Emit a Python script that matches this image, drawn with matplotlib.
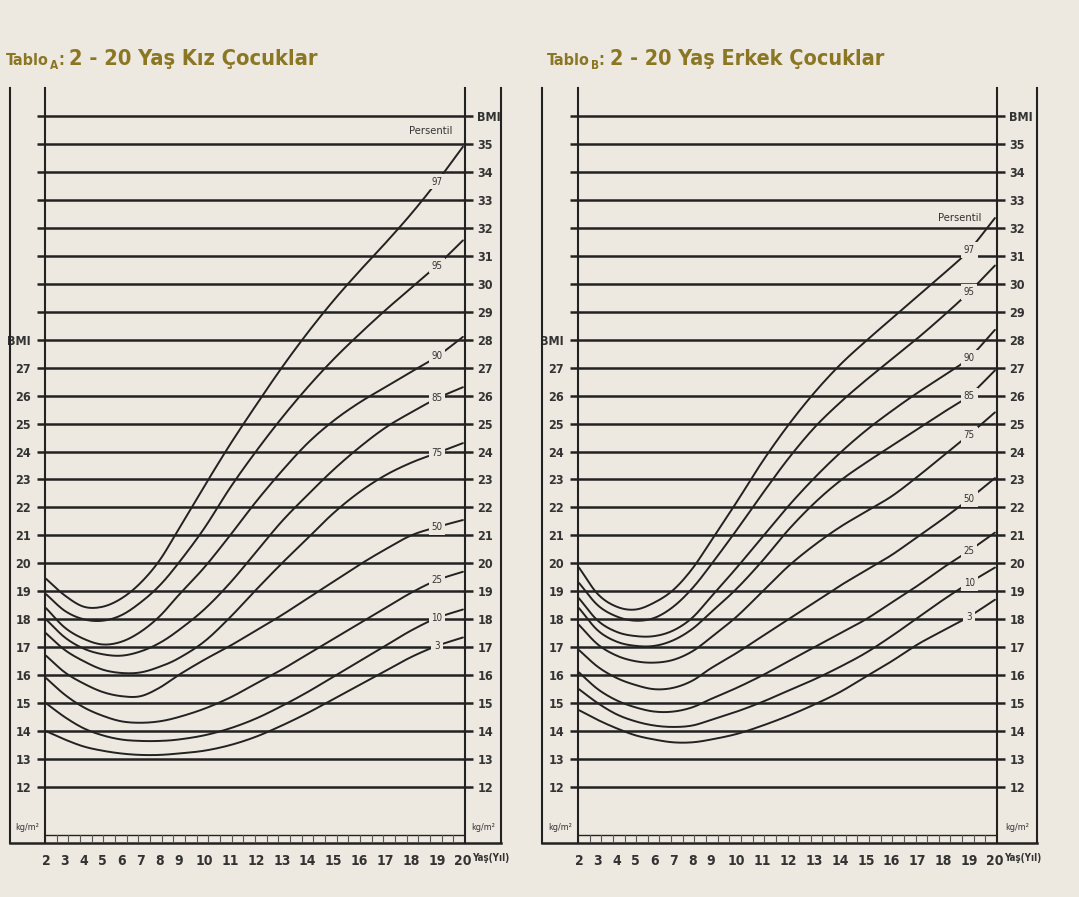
import numpy as np
import matplotlib.pyplot as plt
from matplotlib import font_manager
from matplotlib.font_manager import FontProperties

# ---- data (BMI, kg/m2) ----
ages = list(range(2, 21))
percentiles = ["3", "10", "25", "50", "75", "85", "90", "95", "97"]

girls_p3 = [14.0, 13.7, 13.45, 13.3, 13.2, 13.15, 13.15, 13.2, 13.3, 13.5, 13.8, 14.2, 14.65, 15.15, 15.65, 16.15, 16.65, 17.05, 17.35]
girls_p10 = [15.0, 14.5, 14.1, 13.85, 13.7, 13.65, 13.65, 13.7, 13.85, 14.1, 14.45, 14.9, 15.4, 15.95, 16.5, 17.05, 17.6, 18.05, 18.35]
girls_p25 = [15.9, 15.3, 14.85, 14.55, 14.35, 14.3, 14.35, 14.5, 14.8, 15.2, 15.7, 16.2, 16.75, 17.3, 17.85, 18.4, 18.95, 19.4, 19.7]
girls_p50 = [16.7, 16.1, 15.7, 15.4, 15.25, 15.25, 15.55, 16.0, 16.55, 17.05, 17.6, 18.15, 18.75, 19.35, 19.95, 20.5, 21.0, 21.3, 21.55]
girls_p75 = [17.5, 16.9, 16.5, 16.2, 16.08, 16.1, 16.3, 16.6, 17.2, 18.07, 19.05, 20.0, 20.9, 21.8, 22.55, 23.15, 23.6, 23.95, 24.3]
girls_p85 = [18.0, 17.35, 16.95, 16.75, 16.7, 16.85, 17.15, 17.6, 18.35, 19.3, 20.4, 21.5, 22.45, 23.35, 24.15, 24.85, 25.4, 25.9, 26.3]
girls_p90 = [18.4, 17.7, 17.3, 17.1, 17.2, 17.55, 18.1, 18.85, 19.85, 21.0, 22.2, 23.3, 24.3, 25.1, 25.75, 26.3, 26.85, 27.4, 28.1]
girls_p95 = [18.9, 18.3, 18.0, 17.95, 18.15, 18.6, 19.2, 20.0, 21.25, 22.7, 24.0, 25.2, 26.3, 27.3, 28.2, 29.05, 29.85, 30.65, 31.55]
girls_p97 = [19.45, 18.85, 18.45, 18.45, 18.75, 19.3, 20.1, 21.2, 22.75, 24.25, 25.65, 27.0, 28.25, 29.4, 30.45, 31.45, 32.5, 33.65, 34.9]

boys_p3 = [14.75, 14.4, 14.1, 13.85, 13.7, 13.6, 13.6, 13.7, 13.9, 14.2, 14.55, 14.95, 15.4, 15.95, 16.5, 17.1, 17.6, 18.1, 18.7]
boys_p10 = [15.5, 15.0, 14.6, 14.35, 14.2, 14.15, 14.2, 14.4, 14.7, 15.05, 15.45, 15.85, 16.3, 16.8, 17.4, 18.05, 18.7, 19.3, 19.85]
boys_p25 = [16.1, 15.5, 15.1, 14.85, 14.7, 14.7, 14.85, 15.15, 15.55, 16.0, 16.5, 17.0, 17.5, 18.0, 18.6, 19.2, 19.85, 20.45, 21.1]
boys_p50 = [16.9, 16.3, 15.9, 15.65, 15.5, 15.55, 15.8, 16.25, 16.8, 17.4, 18.0, 18.6, 19.2, 19.75, 20.3, 20.95, 21.6, 22.3, 23.05]
boys_p75 = [17.8, 17.1, 16.7, 16.5, 16.45, 16.55, 16.85, 17.35, 18.1, 19.0, 19.9, 20.65, 21.3, 21.85, 22.4, 23.1, 23.85, 24.6, 25.4]
boys_p85 = [18.4, 17.6, 17.2, 17.05, 17.05, 17.25, 17.65, 18.25, 19.1, 20.1, 21.2, 22.15, 22.95, 23.6, 24.2, 24.8, 25.4, 26.0, 26.9]
boys_p90 = [18.75, 17.95, 17.55, 17.4, 17.4, 17.6, 18.05, 18.8, 19.85, 20.95, 22.05, 23.05, 23.95, 24.75, 25.45, 26.1, 26.7, 27.35, 28.35]
boys_p95 = [19.3, 18.5, 18.1, 17.95, 18.05, 18.45, 19.1, 19.95, 21.2, 22.5, 23.75, 24.85, 25.75, 26.55, 27.3, 28.05, 28.85, 29.7, 30.65]
boys_p97 = [19.85, 18.9, 18.45, 18.35, 18.6, 19.05, 19.8, 20.8, 22.2, 23.65, 24.95, 26.1, 27.1, 27.95, 28.75, 29.55, 30.35, 31.2, 32.35]

girls = [girls_p3, girls_p10, girls_p25, girls_p50, girls_p75, girls_p85, girls_p90, girls_p95, girls_p97]
boys = [boys_p3, boys_p10, boys_p25, boys_p50, boys_p75, boys_p85, boys_p90, boys_p95, boys_p97]

bmi_ticks = list(range(12, 37))
left_labels = [str(v) if v <= 27 else ("BMI" if v == 28 else "") for v in bmi_ticks]
right_labels = [str(v) for v in range(12, 36)] + ["BMI"]

BG = "#EDE9E0"
INK = "#222222"
LBL = "#333333"
TITLE_C = "#8A7623"


def narrow_font(bold=False):
    # look for a condensed / narrow face among the installed fonts
    want = 700 if bold else 400
    best = None
    for f in font_manager.fontManager.ttflist:
        st = str(f.stretch).lower()
        narrowish = ("condensed" in st or "narrow" in f.name.lower()
                     or "condensed" in f.name.lower())
        if not narrowish or f.style != "normal":
            continue
        w = f.weight if isinstance(f.weight, int) else (700 if "bold" in str(f.weight) else 400)
        score = abs(w - want)
        if best is None or score < best[0]:
            best = (score, f.fname)
    if best is None:
        return FontProperties(family="DejaVu Sans", weight="bold" if bold else "normal")
    return FontProperties(fname=best[1])


FP_REG = narrow_font(False)
FP_BOLD = narrow_font(True)


def fp(size, bold=False):
    p = (FP_BOLD if bold else FP_REG).copy()
    p.set_size(size)
    return p


# the printed age axis is stretched differently below and above 9 years
def fwd(a):
    a = np.asarray(a, float)
    return np.where(a < 9, (a - 2) * 132 / 7, 132 + (a - 9) * 284 / 11)


def inv(u):
    u = np.asarray(u, float)
    return np.where(u < 132, 2 + u * 7 / 132, 9 + (u - 132) * 11 / 284)


def smooth(x, y, n=16):
    # Catmull-Rom through the read points, in screen-like units
    p = np.column_stack([x, y]).astype(float)
    p = np.vstack([2 * p[0] - p[1], p, 2 * p[-1] - p[-2]])
    t = np.linspace(0, 1, n, endpoint=False)[:, None]
    out = []
    for i in range(len(p) - 3):
        p0, p1, p2, p3 = p[i], p[i + 1], p[i + 2], p[i + 3]
        seg = 0.5 * (2 * p1 + (-p0 + p2) * t + (2 * p0 - 5 * p1 + 4 * p2 - p3) * t ** 2
                     + (-p0 + 3 * p1 - 3 * p2 + p3) * t ** 3)
        out.append(seg)
    out.append(p[-2][None, :])
    out = np.vstack(out)
    return out[:, 0], out[:, 1]


W, H = 1079, 897
fig = plt.figure(figsize=(W / 100, H / 100), dpi=100)
fig.patch.set_facecolor(BG)
renderer = fig.canvas.get_renderer()


def put_title(x, letter, title, width):
    # "Tablo" + subscript letter + ":" + big title, chained left to right
    base = 1 - 65 / H
    t = fig.text(x / W, base, "Tablo", fontproperties=fp(11.5, True), color=TITLE_C, va="baseline")
    x = t.get_window_extent(renderer).x1 + 1
    t = fig.text(x / W, 1 - 69 / H, letter, fontproperties=fp(8.5, True), color=TITLE_C, va="baseline")
    x = t.get_window_extent(renderer).x1
    t = fig.text(x / W, base, ":", fontproperties=fp(12, True), color=TITLE_C, va="baseline")
    x = t.get_window_extent(renderer).x1 + 5
    t = fig.text(x / W, base, title, fontproperties=fp(20, True), color=TITLE_C, va="baseline")
    w = t.get_window_extent(renderer).width
    size = min(22, max(12, 20 * width / w))
    t.set_fontproperties(fp(size, True))


def draw_panel(px_left, px_right, outer_l, outer_r, curves, pers_xy):
    ax = fig.add_axes([px_left / W, 54 / H, (px_right - px_left) / W, 755 / H])
    ax.set_facecolor("none")
    ax.set_xscale("function", functions=(fwd, inv))
    ax.set_xlim(float(inv(-1)), 20.08)
    ax.set_ylim(10, 37)

    # horizontal BMI lines + stubs
    ax.set_yticks(bmi_ticks)
    ax.set_yticklabels(left_labels)
    ax.grid(axis="y", color=INK, lw=1.8, zorder=1)
    ax.tick_params(axis="y", length=6, width=1.8, color=INK, pad=4, labelcolor=LBL)
    for lab in ax.get_yticklabels():
        lab.set_fontproperties(fp(9, True))

    ax.set_xticks(ages)
    ax.set_xticklabels([str(a) for a in ages])
    ax.tick_params(axis="x", length=0, pad=8, labelcolor=LBL)
    for lab in ax.get_xticklabels():
        lab.set_fontproperties(fp(10, True))

    for s in ["top", "bottom"]:
        ax.spines[s].set_visible(False)
    for s in ["left", "right"]:
        ax.spines[s].set_color(INK)
        ax.spines[s].set_linewidth(1.5)

    ax2 = ax.twinx()
    ax2.set_ylim(10, 37)
    ax2.set_yticks(bmi_ticks)
    ax2.set_yticklabels(right_labels)
    ax2.tick_params(axis="y", length=6, width=1.8, color=INK, pad=3, labelcolor=LBL)
    for lab in ax2.get_yticklabels():
        lab.set_fontproperties(fp(9, True))
    for s in ax2.spines.values():
        s.set_visible(False)

    # outer frame
    wpx = px_right - px_left
    fl = (outer_l - px_left) / wpx
    fr = (outer_r - px_left) / wpx
    ax.plot([fl, fl], [0, 1], color=INK, lw=1.5, transform=ax.transAxes, clip_on=False)
    ax.plot([fr, fr], [0, 1], color=INK, lw=1.5, transform=ax.transAxes, clip_on=False)
    ax.plot([fl, fr], [0, 0], color=INK, lw=1.8, transform=ax.transAxes, clip_on=False)

    # age ruler along the bottom
    ax.axhline(10.28, color=INK, lw=1.0)
    for f in np.linspace(0, 1, 37):
        ax.plot([f, f], [0, 0.0104], color="#555555", lw=0.8, transform=ax.transAxes)

    ytr = ax.get_yaxis_transform()
    ax.text(fl / 2, 10.55, "kg/m²", transform=ytr, ha="center", va="center",
            fontproperties=fp(6.5), color=LBL)
    ax.text((1 + fr) / 2, 10.55, "kg/m²", transform=ytr, ha="center", va="center",
            fontproperties=fp(6.5), color=LBL)
    ax.text(1.017, -0.0195, "Yaş(Yıl)", transform=ax.transAxes, ha="left", va="center",
            fontproperties=fp(7, True), color=LBL)

    # percentile curves
    u_pts = fwd(ages)
    for name, vals in zip(percentiles, curves):
        su, sy = smooth(u_pts, vals)
        ax.plot(inv(su), sy, color=INK, lw=1.4, zorder=3, solid_capstyle="round")
        ax.text(19, vals[ages.index(19)], name, ha="center", va="center",
                fontproperties=fp(7), color=LBL, zorder=4,
                bbox=dict(facecolor=BG, edgecolor="none", pad=2.0))
    ax.text(pers_xy[0], pers_xy[1], "Persentil", ha="center", va="center",
            fontproperties=fp(8), color=LBL, zorder=4,
            bbox=dict(facecolor=BG, edgecolor="none", pad=0.5))
    return ax


draw_panel(45, 465, 10, 501, girls, (18.76, 35.45))
draw_panel(578, 997, 542, 1037, boys, (18.64, 32.35))
put_title(6, "A", "2 - 20 Yaş Kız Çocuklar", 250)
put_title(547, "B", "2 - 20 Yaş Erkek Çocuklar", 275)

fig.savefig("out.png", dpi=100, facecolor=BG)
